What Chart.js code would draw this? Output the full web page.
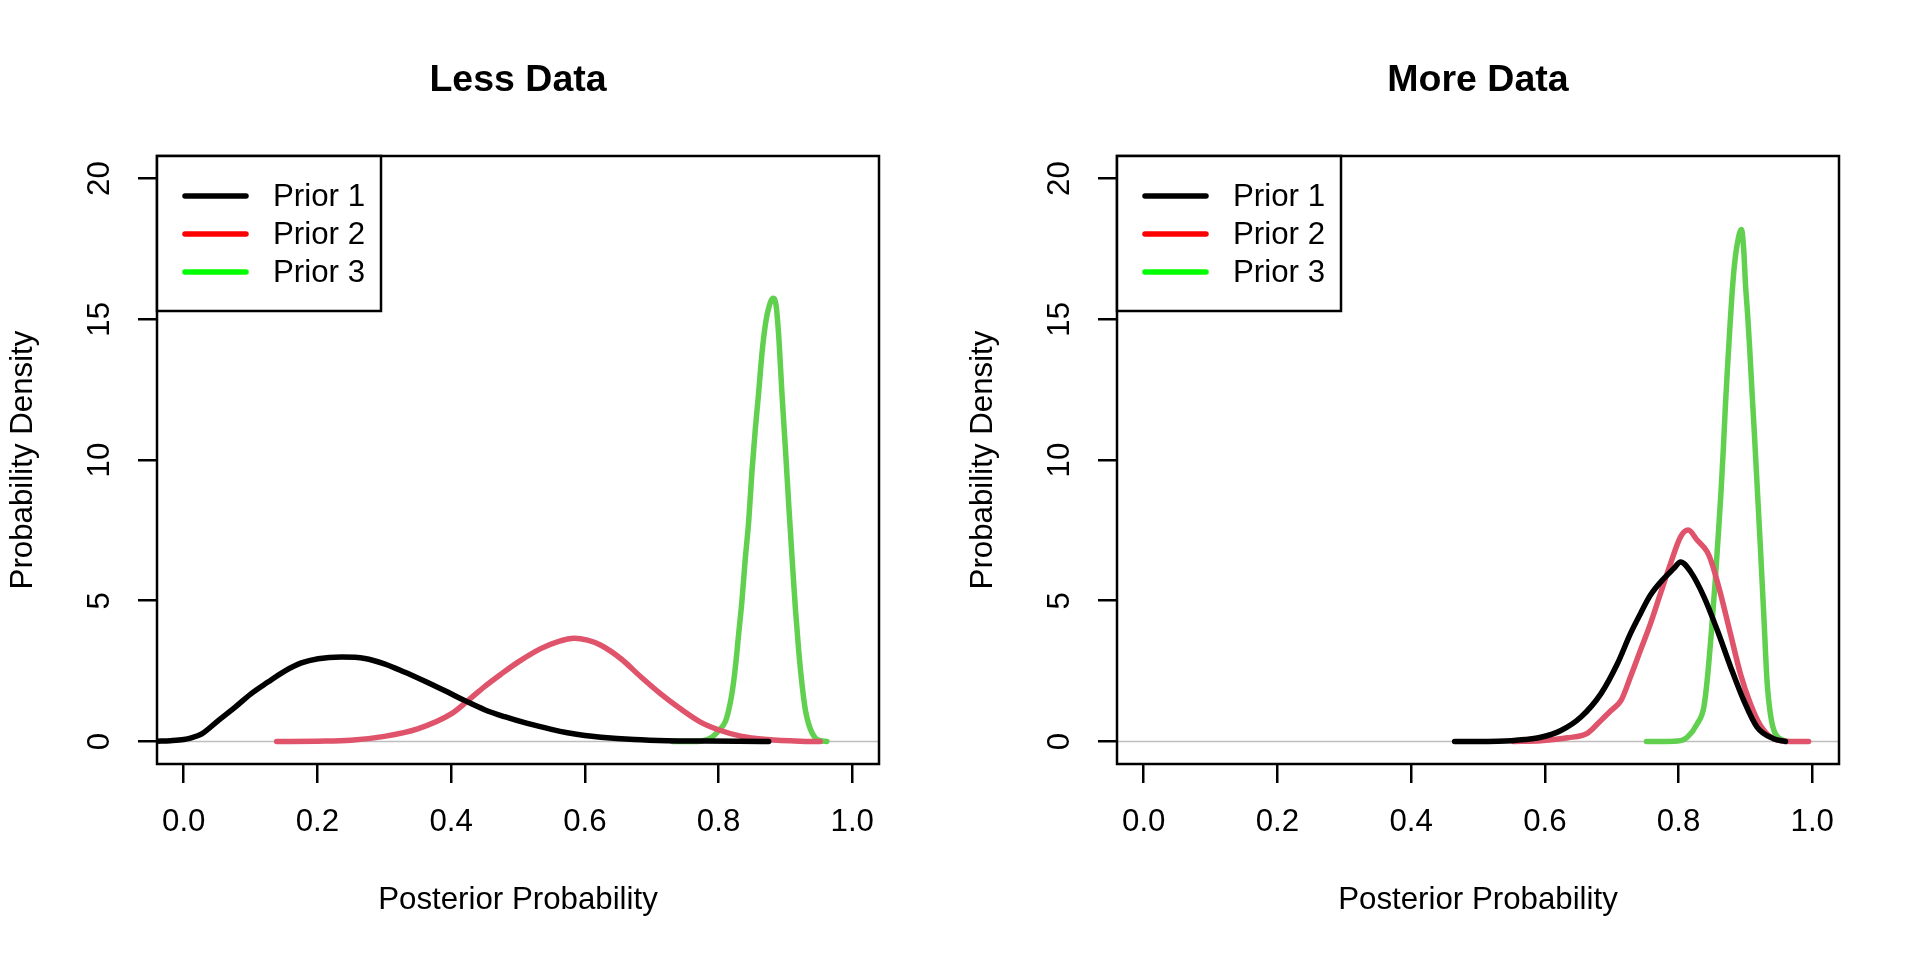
<!DOCTYPE html>
<html><head><meta charset="utf-8">
<script src="https://cdn.jsdelivr.net/npm/chart.js@4.4.1/dist/chart.umd.min.js"></script>
<style>
html,body{margin:0;padding:0;background:#fff;}
#wrap{display:flex;width:1920px;height:960px;}
canvas{display:block;}
</style></head><body>
<div id="wrap"><canvas id="c1" width="960" height="960"></canvas><canvas id="c2" width="960" height="960"></canvas></div>
<script>
const panelTitles = ['Less Data', 'More Data'];
const seriesNames = ['Prior 1', 'Prior 2', 'Prior 3'];
const lineColors = ['#000000', '#DF536B', '#61D04F'];
const legendColors = ['#000000', '#FF0000', '#00FF00'];
const xTicks = [0, 0.2, 0.4, 0.6, 0.8, 1.0];
const yTicks = [0, 5, 10, 15, 20];
const xLabel = 'Posterior Probability';
const yLabel = 'Probability Density';

// Less Data
const lessP1x = [-0.04, -0.02, 0.0, 0.01, 0.027, 0.052, 0.077, 0.101, 0.126, 0.151, 0.176, 0.201, 0.236, 0.271, 0.300, 0.330, 0.360, 0.390, 0.420, 0.450, 0.480, 0.514, 0.550, 0.574, 0.600, 0.624, 0.674, 0.723, 0.780, 0.830, 0.875];
const lessP1y = [0.01, 0.03, 0.07, 0.12, 0.27, 0.75, 1.22, 1.70, 2.11, 2.50, 2.79, 2.94, 3.00, 2.95, 2.76, 2.47, 2.15, 1.81, 1.46, 1.13, 0.88, 0.64, 0.43, 0.31, 0.21, 0.15, 0.07, 0.03, 0.015, 0.005, 0.0];
const lessP2x = [0.139, 0.200, 0.250, 0.300, 0.350, 0.400, 0.425, 0.450, 0.475, 0.500, 0.534, 0.560, 0.584, 0.604, 0.624, 0.654, 0.684, 0.713, 0.743, 0.773, 0.803, 0.833, 0.873, 0.922, 0.952];
const lessP2y = [0.0, 0.01, 0.04, 0.18, 0.45, 0.98, 1.45, 1.95, 2.40, 2.82, 3.30, 3.55, 3.67, 3.60, 3.42, 2.94, 2.29, 1.70, 1.16, 0.69, 0.39, 0.19, 0.07, 0.01, 0.0];
const lessP3x = [0.731, 0.760, 0.775, 0.790, 0.800, 0.810, 0.815, 0.820, 0.825, 0.830, 0.835, 0.840, 0.845, 0.850, 0.855, 0.860, 0.865, 0.870, 0.875, 0.8816, 0.886, 0.890, 0.895, 0.900, 0.905, 0.910, 0.915, 0.920, 0.925, 0.930, 0.935, 0.940, 0.945, 0.952, 0.962];
const lessP3y = [0.0, 0.0, 0.02, 0.15, 0.38, 0.70, 1.10, 1.70, 2.60, 3.80, 5.00, 6.50, 7.80, 9.60, 11.10, 12.40, 13.80, 14.80, 15.40, 15.75, 15.50, 14.40, 12.30, 10.40, 8.40, 6.50, 4.70, 3.20, 2.00, 1.10, 0.60, 0.30, 0.12, 0.03, 0.0];

// More Data
const moreP1x = [0.465, 0.500, 0.530, 0.550, 0.570, 0.594, 0.624, 0.654, 0.684, 0.7085, 0.728, 0.743, 0.758, 0.778, 0.793, 0.803, 0.818, 0.838, 0.858, 0.878, 0.8975, 0.9174, 0.942, 0.960];
const moreP1y = [0.0, 0.0, 0.01, 0.03, 0.07, 0.15, 0.39, 0.87, 1.70, 2.76, 3.83, 4.54, 5.20, 5.79, 6.15, 6.38, 6.03, 5.14, 3.95, 2.64, 1.46, 0.51, 0.10, 0.0];
const moreP2x = [0.553, 0.594, 0.634, 0.664, 0.684, 0.699, 0.714, 0.728, 0.743, 0.758, 0.773, 0.788, 0.803, 0.8144, 0.828, 0.8428, 0.850, 0.8627, 0.8776, 0.8925, 0.9075, 0.9224, 0.942, 0.967, 0.9945];
const moreP2y = [0.0, 0.03, 0.13, 0.30, 0.75, 1.10, 1.46, 2.29, 3.24, 4.19, 5.26, 6.32, 7.27, 7.51, 7.15, 6.74, 6.32, 5.26, 3.83, 2.41, 1.34, 0.57, 0.10, 0.0, 0.0];
const moreP3x = [0.752, 0.780, 0.803, 0.813, 0.828, 0.8378, 0.8428, 0.8493, 0.855, 0.860, 0.8637, 0.867, 0.870, 0.8735, 0.877, 0.880, 0.8835, 0.888, 0.894, 0.8975, 0.900, 0.9035, 0.9065, 0.910, 0.9134, 0.9164, 0.9224, 0.9274, 0.9323, 0.9373, 0.9448, 0.962];
const moreP3y = [0.0, 0.0, 0.03, 0.15, 0.63, 1.22, 2.17, 3.95, 5.75, 7.55, 8.95, 10.40, 11.90, 13.40, 14.80, 15.90, 16.90, 17.70, 18.19, 17.47, 16.29, 15.10, 13.91, 12.37, 10.95, 9.60, 6.91, 4.54, 2.17, 0.99, 0.27, 0.0];

const FONT = '"Liberation Sans", Arial, Helvetica, sans-serif';
const BASE = 31.25;

function pts(xs, ys) { return xs.map((x, i) => ({ x: x, y: ys[i] })); }

const rFrame = {
  id: 'rFrame',
  beforeDatasetsDraw(chart) {
    const { ctx, chartArea: a, scales: { y } } = chart;
    const y0 = y.getPixelForValue(0);
    ctx.save();
    ctx.strokeStyle = '#BEBEBE';
    ctx.lineWidth = 1.5;
    ctx.beginPath();
    ctx.moveTo(a.left, y0);
    ctx.lineTo(a.right, y0);
    ctx.stroke();
    ctx.restore();
  },
  afterDraw(chart) {
    const { ctx, chartArea: a } = chart;
    ctx.save();
    ctx.strokeStyle = '#000';
    ctx.lineWidth = 2.5;
    ctx.strokeRect(a.left, a.top, a.right - a.left, a.bottom - a.top);
    // legend
    const lw = 224, lh = 155;
    ctx.fillStyle = '#fff';
    ctx.fillRect(a.left, a.top, lw, lh);
    ctx.strokeRect(a.left, a.top, lw, lh);
    ctx.font = BASE + 'px ' + FONT;
    ctx.textBaseline = 'middle';
    ctx.textAlign = 'left';
    ctx.lineCap = 'round';
    seriesNames.forEach((name, i) => {
      const yy = a.top + 40 + i * 38;
      ctx.strokeStyle = legendColors[i];
      ctx.lineWidth = 5.5;
      ctx.beginPath();
      ctx.moveTo(a.left + 28, yy);
      ctx.lineTo(a.left + 89, yy);
      ctx.stroke();
      ctx.fillStyle = '#000';
      ctx.fillText(name, a.left + 116, yy + 1);
    });
    ctx.restore();
  }
};

function makeChart(id, title, curves) {
  const datasets = curves.map((c, i) => ({
    label: seriesNames[i],
    data: pts(c[0], c[1]),
    borderColor: lineColors[i],
    backgroundColor: lineColors[i],
    borderWidth: 5.5,
    pointRadius: 0,
    fill: false,
    cubicInterpolationMode: 'monotone',
    borderCapStyle: 'round',
    borderJoinStyle: 'round'
  }));
  const gridOpts = { drawOnChartArea: false, drawTicks: true, tickLength: 19, color: '#000', lineWidth: 2.5 };
  return new Chart(document.getElementById(id), {
    type: 'line',
    data: { datasets: datasets },
    plugins: [rFrame],
    options: {
      responsive: false,
      devicePixelRatio: 1,
      animation: false,
      layout: { padding: { left: 0, right: 81, top: 0, bottom: 0 } },
      scales: {
        x: {
          type: 'linear', min: -0.04, max: 1.04,
          afterBuildTicks: s => { s.ticks = xTicks.map(v => ({ value: v })); },
          afterFit: s => { s.height = 196; },
          grid: gridOpts,
          border: { display: false },
          ticks: { color: '#000', font: { family: FONT, size: BASE }, padding: 21, minRotation: 0, maxRotation: 0, autoSkip: false, callback: v => Number(v).toFixed(1) },
          title: { display: true, text: xLabel, color: '#000', font: { family: FONT, size: BASE }, padding: { top: 0, bottom: 41 } }
        },
        y: {
          type: 'linear', min: -0.8, max: 20.8,
          afterBuildTicks: s => { s.ticks = yTicks.map(v => ({ value: v })); },
          afterFit: s => { s.width = 157; },
          grid: gridOpts,
          border: { display: false },
          ticks: { color: '#000', font: { family: FONT, size: BASE }, padding: 20, minRotation: 90, maxRotation: 90, crossAlign: 'center', autoSkip: false, callback: v => String(v) },
          title: { display: true, text: yLabel, color: '#000', font: { family: FONT, size: BASE }, padding: { top: 5, bottom: 0 } }
        }
      },
      plugins: {
        legend: { display: false },
        tooltip: { enabled: false },
        title: { display: true, text: title, fullSize: false, color: '#000', font: { family: FONT, size: 37.5, weight: 'bold' }, padding: { top: 58, bottom: 53 } }
      }
    }
  });
}

makeChart('c1', panelTitles[0], [[lessP1x, lessP1y], [lessP2x, lessP2y], [lessP3x, lessP3y]]);
makeChart('c2', panelTitles[1], [[moreP1x, moreP1y], [moreP2x, moreP2y], [moreP3x, moreP3y]]);
</script>
</body></html>
